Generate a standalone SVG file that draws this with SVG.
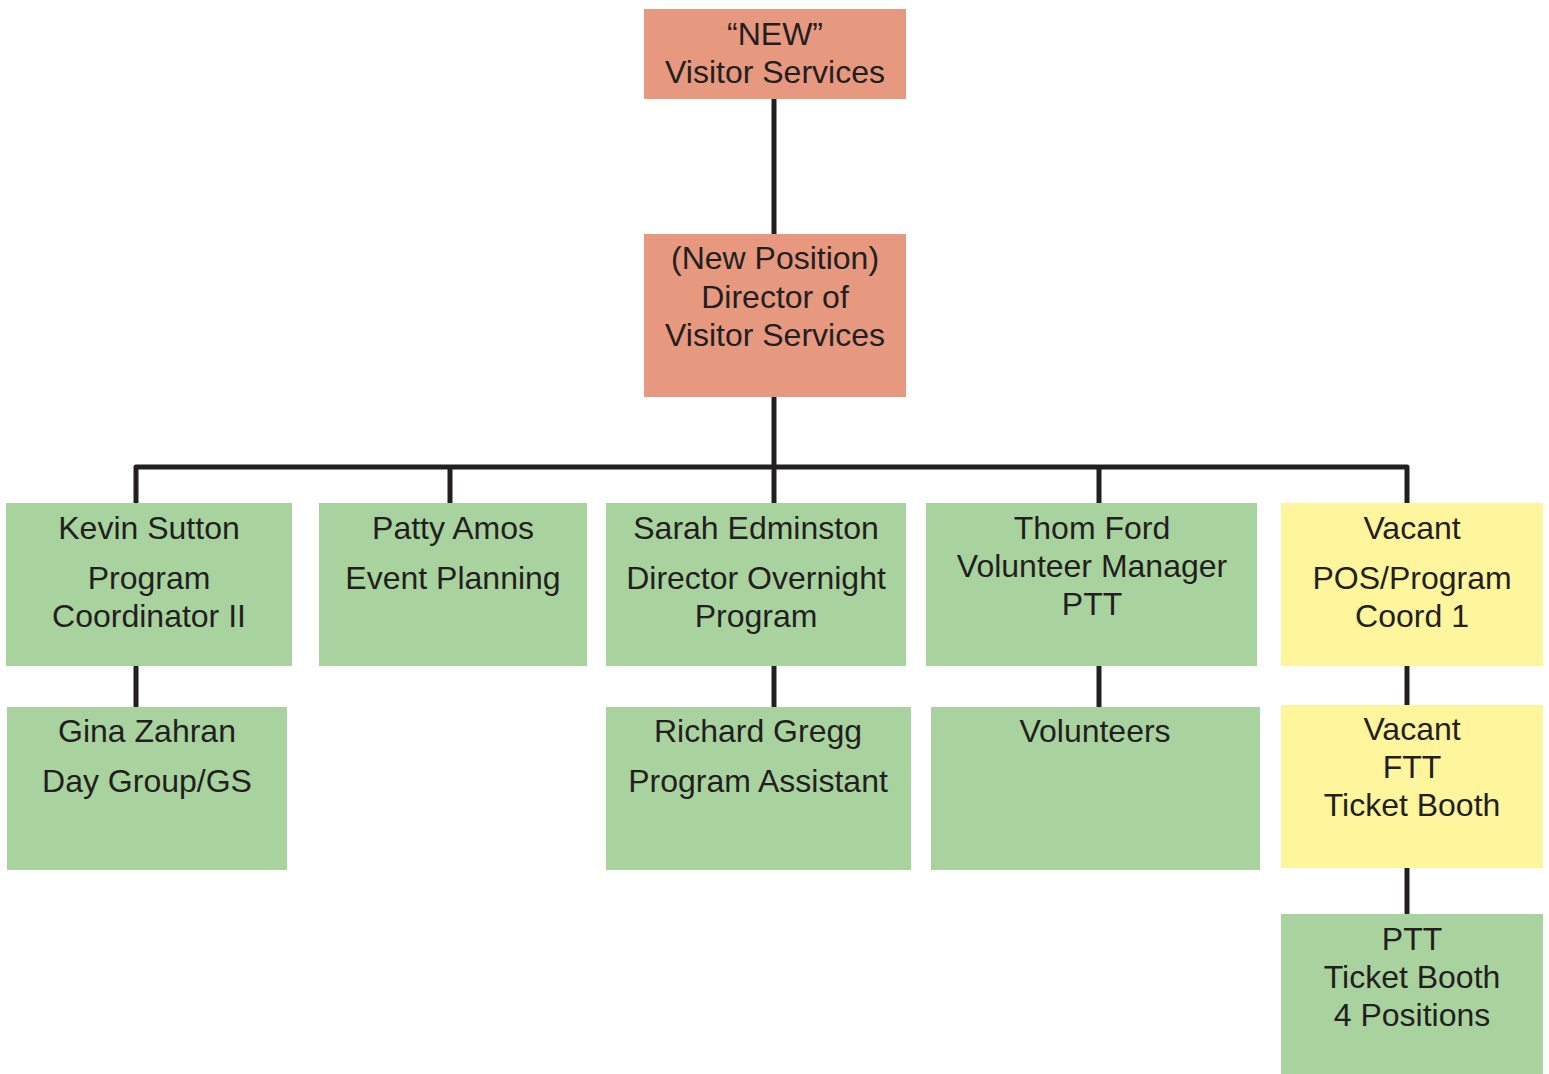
<svg xmlns="http://www.w3.org/2000/svg" width="1549" height="1074" viewBox="0 0 1549 1074">
  <style>
    .lead { fill: #e79980; }
    .staff { fill: #a9d39e; }
    .open { fill: #fff59c; }
    text { font-family: "Liberation Sans", Arial, sans-serif; font-size: 32px; fill: #231f20; text-anchor: middle; }
    .wire { stroke: #231f20; stroke-width: 5; fill: none; stroke-linejoin: round; }
  </style>
  <rect width="1549" height="1074" fill="#ffffff"/>

  <!-- reporting lines -->
  <g id="connectors">
    <line class="wire" x1="774" y1="99" x2="774" y2="234"/>
    <line class="wire" x1="774" y1="397" x2="774" y2="503"/>
    <path class="wire" d="M136,503 V467 H1407 V503"/>
    <line class="wire" x1="450" y1="467" x2="450" y2="503"/>
    <line class="wire" x1="1099" y1="467" x2="1099" y2="503"/>
    <line class="wire" x1="136" y1="666" x2="136" y2="707"/>
    <line class="wire" x1="774" y1="666" x2="774" y2="707"/>
    <line class="wire" x1="1099" y1="666" x2="1099" y2="707"/>
    <line class="wire" x1="1407" y1="666" x2="1407" y2="705"/>
    <line class="wire" x1="1407" y1="868" x2="1407" y2="914"/>
  </g>

  <g id="new-visitor-services">
    <rect class="lead" x="644" y="9" width="262" height="90"/>
    <text x="775" y="45">“NEW”</text>
    <text x="775" y="83">Visitor Services</text>
  </g>

  <g id="director">
    <rect class="lead" x="644" y="234" width="262" height="163"/>
    <text x="775" y="269">(New Position)</text>
    <text x="775" y="308">Director of</text>
    <text x="775" y="346">Visitor Services</text>
  </g>

  <g id="kevin-sutton">
    <rect class="staff" x="6" y="503" width="286" height="163"/>
    <text x="149" y="539">Kevin Sutton</text>
    <text x="149" y="589">Program</text>
    <text x="149" y="627">Coordinator II</text>
  </g>

  <g id="patty-amos">
    <rect class="staff" x="319" y="503" width="268" height="163"/>
    <text x="453" y="539">Patty Amos</text>
    <text x="453" y="589">Event Planning</text>
  </g>

  <g id="sarah-edminston">
    <rect class="staff" x="606" y="503" width="300" height="163"/>
    <text x="756" y="539">Sarah Edminston</text>
    <text x="756" y="589">Director Overnight</text>
    <text x="756" y="627">Program</text>
  </g>

  <g id="thom-ford">
    <rect class="staff" x="926" y="503" width="331" height="163"/>
    <text x="1092" y="539">Thom Ford</text>
    <text x="1092" y="577">Volunteer Manager</text>
    <text x="1092" y="615">PTT</text>
  </g>

  <g id="vacant-pos">
    <rect class="open" x="1281" y="503" width="262" height="163"/>
    <text x="1412" y="539">Vacant</text>
    <text x="1412" y="589">POS/Program</text>
    <text x="1412" y="627">Coord 1</text>
  </g>

  <g id="gina-zahran">
    <rect class="staff" x="7" y="707" width="280" height="163"/>
    <text x="147" y="742">Gina Zahran</text>
    <text x="147" y="792">Day Group/GS</text>
  </g>

  <g id="richard-gregg">
    <rect class="staff" x="606" y="707" width="305" height="163"/>
    <text x="758" y="742">Richard Gregg</text>
    <text x="758" y="792">Program Assistant</text>
  </g>

  <g id="volunteers">
    <rect class="staff" x="931" y="707" width="329" height="163"/>
    <text x="1095" y="742">Volunteers</text>
  </g>

  <g id="vacant-ftt">
    <rect class="open" x="1281" y="705" width="262" height="163"/>
    <text x="1412" y="740">Vacant</text>
    <text x="1412" y="778">FTT</text>
    <text x="1412" y="816">Ticket Booth</text>
  </g>

  <g id="ptt-ticket-booth">
    <rect class="staff" x="1281" y="914" width="262" height="160"/>
    <text x="1412" y="950">PTT</text>
    <text x="1412" y="988">Ticket Booth</text>
    <text x="1412" y="1026">4 Positions</text>
  </g>
</svg>
